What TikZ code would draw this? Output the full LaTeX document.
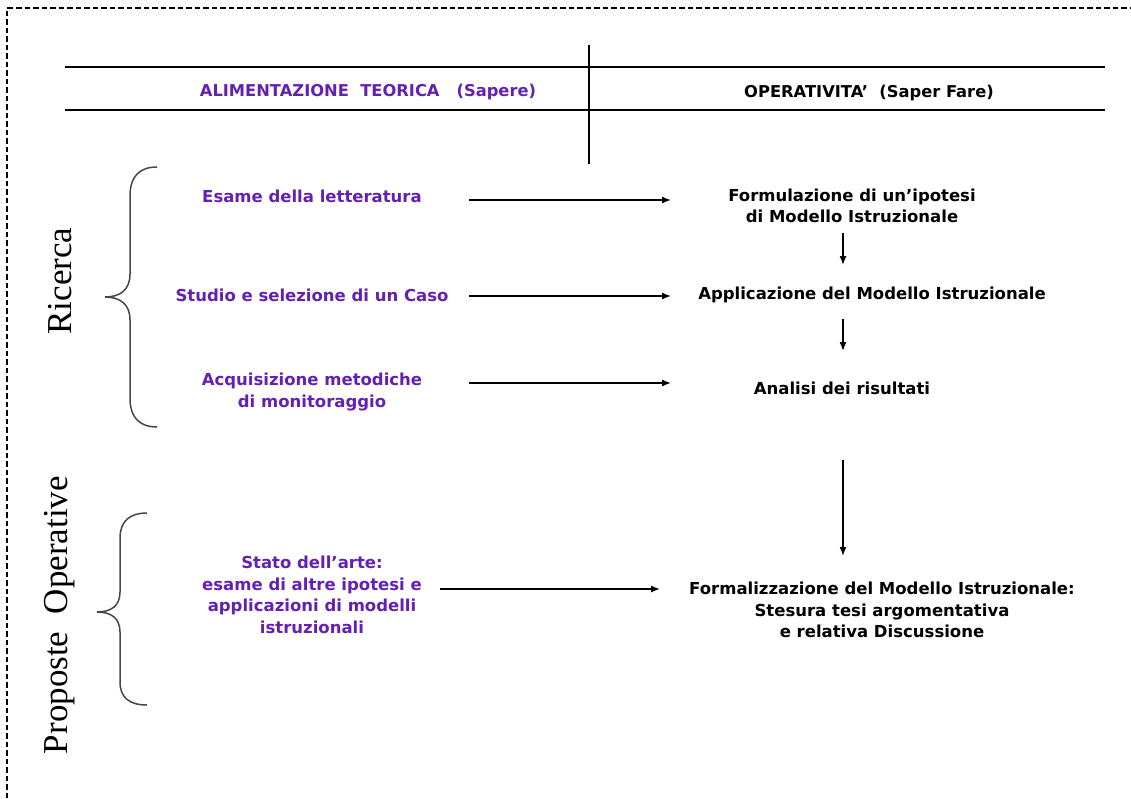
\documentclass[tikz,border=0pt]{standalone}
\usepackage{fontspec}
\setmainfont{DejaVu Sans}
\newfontfamily\serifside{Liberation Serif}
\usetikzlibrary{arrows.meta}
\definecolor{lilac}{RGB}{100,32,178}
\definecolor{bracegray}{RGB}{70,70,70}
\begin{document}
\begin{tikzpicture}[x=1pt,y=-1pt,
  lefttext/.style={text=lilac,font=\bfseries\fontsize{16.5}{21.5}\selectfont,align=center,inner sep=0pt},
  righttext/.style={text=black,font=\bfseries\fontsize{16.5}{21.5}\selectfont,align=center,inner sep=0pt},
  headtext/.style={font=\bfseries\fontsize{16.3}{18}\selectfont,inner sep=0pt},
  sidetext/.style={font=\serifside\fontsize{35}{40}\selectfont,rotate=90,inner sep=0pt},
  rule/.style={line width=2.9pt},
  flow/.style={line width=1.4pt,-{Latex[length=9pt,width=7pt]}},
  bracestyle/.style={draw=bracegray,line width=1.5pt},
  frame/.style={line width=1.8pt,dash pattern=on 5.5pt off 3pt}]
\useasboundingbox (0,0) rectangle (1131,798);
% frame
\draw[frame] (7,798) -- (7,8) -- (1131,8);
% header rules
\draw[rule] (65,67) -- (1105,67);
\draw[rule] (65,110) -- (1105,110);
\draw[rule] (589,45) -- (589,164);
\node[headtext,text=lilac] (hl) at (368,92) {ALIMENTAZIONE\ \ TEORICA\ \ \ (Sapere)};
\node[headtext] (hr) at (869,93) {OPERATIVITA’\ \ (Saper Fare)};
% left items
\node[lefttext] (l1) at (312,196) {Esame della letteratura};
\node[lefttext] (l2) at (312,295) {Studio e selezione di un Caso};
\node[lefttext] (l3) at (312,392) {Acquisizione\ metodiche\\di monitoraggio};
\node[lefttext] (l4) at (312,595) {Stato dell’arte:\\esame di altre ipotesi e\\applicazioni\ di modelli\\istruzionali};
% right items
\node[righttext] (r1) at (852,206) {Formulazione di un’ipotesi\\di Modello\ Istruzionale};
\node[righttext] (r2) at (872,295) {Applicazione del Modello\ Istruzionale};
\node[righttext] (r3) at (842,388) {Analisi dei risultati};
\node[righttext] (r4) at (882,610) {Formalizzazione\ del Modello\ Istruzionale:\\Stesura\ tesi argomentativa\\e relativa\ Discussione};
% arrow end points
\coordinate (a1s) at (469,200); \coordinate (a1e) at (671,200);
\coordinate (a2s) at (469,296); \coordinate (a2e) at (671,296);
\coordinate (a3s) at (469,383); \coordinate (a3e) at (671,383);
\coordinate (a4s) at (440,589); \coordinate (a4e) at (660,589);
\coordinate (v1s) at (843,233); \coordinate (v1e) at (843,265);
\coordinate (v2s) at (843,319); \coordinate (v2e) at (843,351);
\coordinate (v3s) at (843,460); \coordinate (v3e) at (843,556);
\draw[flow] (a1s) -- (a1e);
\draw[flow] (a2s) -- (a2e);
\draw[flow] (a3s) -- (a3e);
\draw[flow] (a4s) -- (a4e);
\draw[flow] (v1s) -- (v1e);
\draw[flow] (v2s) -- (v2e);
\draw[flow] (v3s) -- (v3e);
% braces
\draw[bracestyle] (157,167) .. controls (140,167) and (130,176) .. (130,196) -- (130,274)
  .. controls (130,290) and (120,297) .. (105,297)
  .. controls (120,297) and (130,304) .. (130,320) -- (130,398)
  .. controls (130,418) and (140,427) .. (157,427);
\draw[bracestyle] (147,513) .. controls (130,513) and (120,521) .. (120,538) -- (120,592)
  .. controls (120,606) and (111,612) .. (97,612)
  .. controls (111,612) and (120,618) .. (120,632) -- (120,682)
  .. controls (120,698) and (130,705) .. (147,705);
\node[sidetext] (s1) at (60,281) {Ricerca};
\node[sidetext] (s2) at (60,615) {Proposte\ \ Operative};
\end{tikzpicture}
\end{document}
